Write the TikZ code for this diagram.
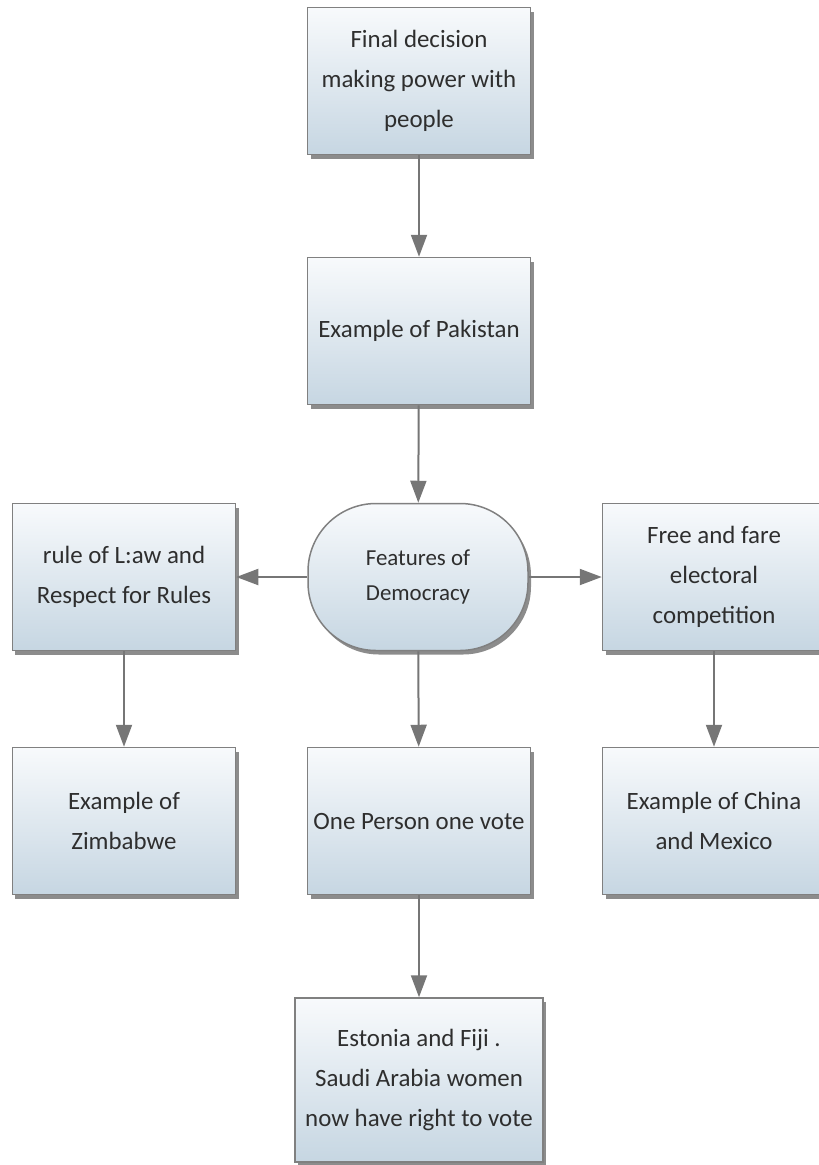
\documentclass[tikz,border=0pt]{standalone}
\usepackage{fontspec}
\setmainfont{Carlito}
\usetikzlibrary{arrows.meta,shadows}
\definecolor{boxtop}{HTML}{F8FAFC}
\definecolor{boxbot}{HTML}{C6D6E2}
\definecolor{boxline}{HTML}{808080}
\definecolor{txt}{HTML}{2E2E2E}
\definecolor{arr}{HTML}{767676}
\tikzset{
  box/.style={draw=boxline, line width=1.5bp, top color=boxtop, bottom color=boxbot,
    minimum width=223bp, minimum height=147bp, inner sep=2bp, align=center,
    text=txt, font=\fontsize{25}{40}\selectfont,
    drop shadow={shadow xshift=3bp, shadow yshift=-4bp, opacity=0.6, fill=black!75}},
  roundbox/.style={box, rounded corners=68bp, minimum width=220bp, font=\fontsize{23}{36}\selectfont},
  conn/.style={draw=arr, line width=2bp, -{Triangle[width=16bp,length=22bp]}}
}
\begin{document}
\begin{tikzpicture}[x=1bp,y=-1bp]
\useasboundingbox (0,0) rectangle (819,1165);
\node[box] (final) at (419,81) {Final decision\\making power with\\people};
\node[box] (pak) at (419,331) {Example of Pakistan};
\node[roundbox] (feat) at (418,577) {Features of\\Democracy};
\node[box] (law) at (124,577) {rule of L:aw and\\Respect for Rules};
\node[box] (free) at (714,577) {Free and fare\\electoral\\competition};
\node[box] (zim) at (124,821) {Example of\\Zimbabwe};
\node[box] (one) at (419,821) {One Person one vote};
\node[box] (china) at (714,821) {Example of China\\and Mexico};
\node[box, minimum width=248bp, minimum height=164bp] (est) at (419,1080) {Estonia and Fiji .\\Saudi Arabia women\\now have right to vote};
\draw[conn] (final) -- (pak);
\draw[conn] (pak) -- (feat);
\draw[conn] (feat) -- (law);
\draw[conn] (feat) -- (free);
\draw[conn] (feat) -- (one);
\draw[conn] (law) -- (zim);
\draw[conn] (free) -- (china);
\draw[conn] (one) -- (est);
\end{tikzpicture}
\end{document}
